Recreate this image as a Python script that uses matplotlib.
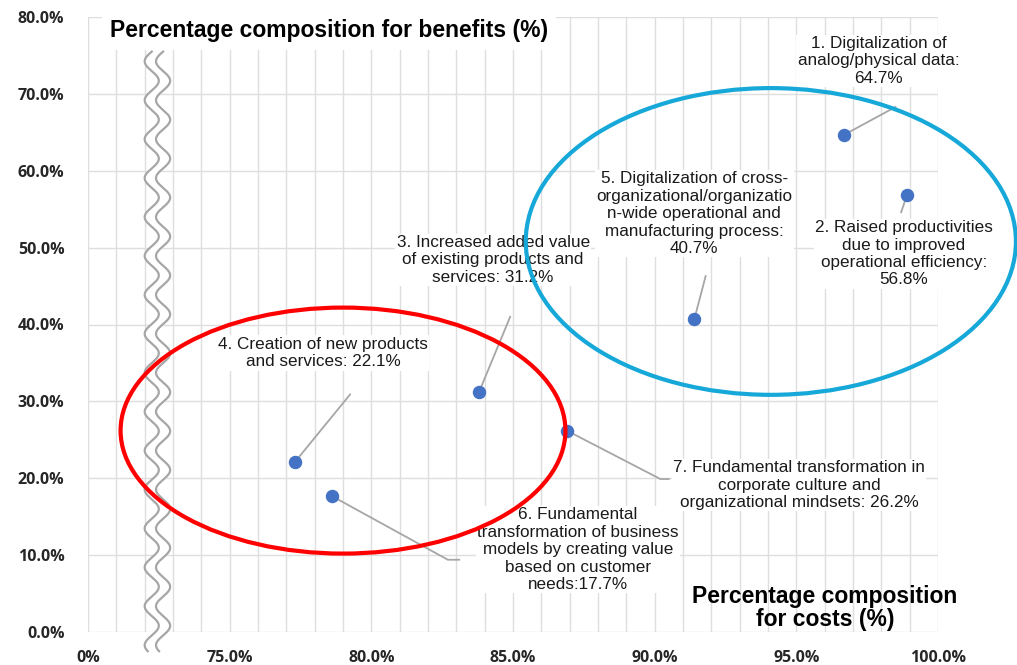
import numpy as np
import matplotlib
matplotlib.use('Agg')
import matplotlib.pyplot as plt
from matplotlib.patches import Ellipse

# 数据：x = 成本构成(%)，y = 收益构成(%)
labels = [
    '1. Digitalization of\nanalog/physical data:\n64.7%',
    '2. Raised productivities\ndue to improved\noperational efficiency:\n56.8%',
    '3. Increased added value\nof existing products and\nservices: 31.2%',
    '4. Creation of new products\nand services: 22.1%',
    '5. Digitalization of cross-\norganizational/organizatio\nn-wide operational and\nmanufacturing process:\n40.7%',
    '6. Fundamental\ntransformation of business\nmodels by creating value\nbased on customer\nneeds:17.7%',
    '7. Fundamental transformation in\ncorporate culture and\norganizational mindsets: 26.2%',
]
cost_pct = [96.7, 98.9, 83.8, 77.3, 91.4, 78.6, 86.9]
benefit_pct = [64.7, 56.8, 31.2, 22.1, 40.7, 17.7, 26.2]

x_ticks = [70, 75, 80, 85, 90, 95, 100]
x_ticklabels = ['0%', '75.0%', '80.0%', '85.0%', '90.0%', '95.0%', '100.0%']
y_ticks = [0, 10, 20, 30, 40, 50, 60, 70, 80]

# 标签位置和引线 (data coords)
label_pos = [(97.9, 74.3), (98.8, 49.2), (84.3, 48.4), (78.3, 36.3),
             (91.4, 54.4), (87.3, 10.7), (95.1, 19.1)]
leader_pts = [
    [(98.5, 68.3)],
    [(98.7, 54.6)],
    [(84.9, 41.0)],
    [(79.25, 30.9)],
    [(91.8, 46.3)],
    [(82.7, 9.4), (83.1, 9.4)],
    [(90.2, 19.9), (90.5, 19.9)],
]
draw_order = [0, 1, 2, 3, 4, 6, 5]

plt.rcParams['font.family'] = ['Liberation Sans', 'DejaVu Sans']

fig = plt.figure(figsize=(10.17, 6.65), dpi=100)
ax = fig.add_axes([88 / 1017, 1 - 632 / 665, (938 - 88) / 1017, (632 - 17) / 665])

ax.set_xlim(70, 100)
ax.set_ylim(0, 80)
ax.set_xticks(x_ticks)
ax.set_xticklabels(x_ticklabels)
ax.set_xticks(np.arange(70, 101, 1), minor=True)
ax.set_yticks(y_ticks)
ax.set_yticklabels(['%.1f%%' % v for v in y_ticks])
ax.grid(True, which='both', axis='x', color='#dedede', lw=1)
ax.grid(True, which='major', axis='y', color='#dedede', lw=1)
ax.set_axisbelow(True)
for s in ax.spines.values():
    s.set_visible(False)
ax.tick_params(which='both', length=0)
ax.tick_params(axis='x', pad=13)
ax.tick_params(axis='y', pad=17)
for t in ax.get_xticklabels() + ax.get_yticklabels():
    t.set_fontfamily('Open Sans')
    t.set_fontweight('bold')
    t.set_fontsize(11.5)
    t.set_color('#262626')

# 引线
for i in range(len(cost_pct)):
    xs = [cost_pct[i]] + [p[0] for p in leader_pts[i]]
    ys = [benefit_pct[i]] + [p[1] for p in leader_pts[i]]
    ax.plot(xs, ys, color='#a6a6a6', lw=1.3, zorder=2)

ax.scatter(cost_pct, benefit_pct, s=75, color='#4472c4', zorder=4)

# 标签文字
for k, i in enumerate(draw_order):
    ax.text(label_pos[i][0], label_pos[i][1], labels[i], ha='center', va='center',
            fontsize=12.3, color='#1a1a1a', linespacing=1.2, zorder=3 + k * 0.01,
            bbox=dict(facecolor='white', edgecolor='none', pad=1))

# 轴标题
fig.text(329 / 1017, 1 - 30 / 665, 'Percentage composition for benefits (%)',
         ha='center', va='center', fontsize=16.5,
         fontweight='bold', color='black', zorder=5,
         bbox=dict(facecolor='white', edgecolor='none', pad=6))
fig.text(825 / 1017, 1 - 608 / 665, 'Percentage composition\nfor costs (%)',
         ha='center', va='center', fontsize=16.5,
         fontweight='bold', color='black', linespacing=1.05, zorder=5)

# 圈
ax.add_patch(Ellipse((94.1, 50.8), 17.3, 39.9, fill=False, edgecolor='#16a8d8',
                     lw=3, clip_on=False, zorder=6))
ax.add_patch(Ellipse((79.0, 26.2), 15.7, 32.0, fill=False, edgecolor='#ff0000',
                     lw=3, clip_on=False, zorder=6))

# 断轴波浪线
yy = np.linspace(75.5, -2.5, 400)
wave = 0.25 * np.sin((yy - 75.5) / 80 * 2 * np.pi * 15.8)
ax.fill_betweenx(yy, 72.25 + wave, 72.65 + wave, color='white', zorder=2.5, clip_on=False)
ax.plot(72.25 + wave, yy, color='#a6a6a6', lw=1.6, zorder=2.6, clip_on=False)
ax.plot(72.65 + wave, yy, color='#a6a6a6', lw=1.6, zorder=2.6, clip_on=False)

fig.savefig('out.png', dpi=100)
